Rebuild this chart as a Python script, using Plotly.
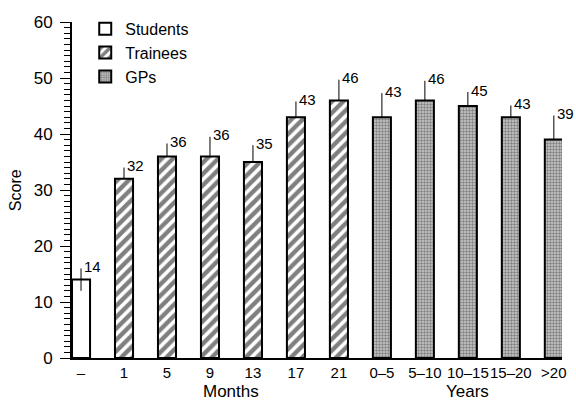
import plotly.graph_objects as go

labels = ["–", "1", "5", "9", "13", "17", "21", "0–5", "5–10", "10–15", "15–20", ">20"]
groups = ["Students"] + ["Trainees"] * 6 + ["GPs"] * 5
scores = [14, 32, 36, 36, 35, 43, 46, 43, 46, 45, 43, 39]
errors = [2.0, 2.0, 2.3, 3.5, 3.0, 2.8, 3.7, 4.3, 3.5, 2.5, 2.1, 4.3]

styles = {
    "Students": dict(shape=""),
    "Trainees": dict(shape="/", fgcolor="black", bgcolor="white", size=8, solidity=0.55),
    "GPs": dict(shape=".", fgcolor="#333333", bgcolor="#cccccc", size=3, solidity=0.5),
}

fig = go.Figure()
for g in ["Students", "Trainees", "GPs"]:
    idx = [i for i, gg in enumerate(groups) if gg == g]
    err = [errors[i] for i in idx]
    fig.add_trace(go.Bar(
        x=idx, y=[scores[i] for i in idx], name=g, width=0.42,
        marker=dict(color="white", pattern=styles[g],
                    line=dict(color="black", width=2)),
        error_y=dict(type="data", array=err,
                     arrayminus=err if g == "Students" else [0] * len(err),
                     symmetric=False, color="black", thickness=1, width=0),
    ))

for i, (s, e) in enumerate(zip(scores, errors)):
    fig.add_annotation(x=i, y=s + e, text=str(s), showarrow=False,
                       xanchor="left", yanchor="middle", xshift=1, yshift=2,
                       font=dict(size=15, color="black"))

fig.add_annotation(x=3.5, y=0, yref="paper", text="Months", showarrow=False,
                   xanchor="center", yanchor="middle", yshift=-33,
                   font=dict(size=17, color="black"))
fig.add_annotation(x=9, y=0, yref="paper", text="Years", showarrow=False,
                   xanchor="center", yanchor="middle", yshift=-33,
                   font=dict(size=17, color="black"))
fig.add_annotation(x=-0.116, xref="paper", y=0.5, yref="paper", text="Score",
                   showarrow=False, textangle=-90, xanchor="center", yanchor="middle",
                   font=dict(size=16, color="black"))

fig.update_layout(
    width=576, height=409,
    margin=dict(l=72, r=14, t=22, b=51),
    plot_bgcolor="white", paper_bgcolor="white",
    font=dict(family="Liberation Sans, Arial, sans-serif", size=14, color="black"),
    barmode="overlay",
    showlegend=True,
    legend=dict(x=0.027, y=1.03, xanchor="left", yanchor="top",
                bgcolor="rgba(0,0,0,0)", font=dict(size=16), itemwidth=30,
                tracegroupgap=0),
    xaxis=dict(range=[-0.21, 11.19], tickmode="array", tickvals=list(range(len(labels))),
               ticktext=labels, tickangle=0, showline=True, linecolor="black", linewidth=2,
               ticks="", showgrid=False, zeroline=False, tickfont=dict(size=15),
               automargin=False),
    yaxis=dict(range=[0, 60], tickmode="linear", dtick=10, showline=True,
               linecolor="black", linewidth=2, ticks="outside", ticklen=10,
               tickwidth=1, tickcolor="black", showgrid=False, zeroline=False,
               minor=dict(dtick=1, ticks="outside", ticklen=6, tickcolor="black", tickwidth=1),
               tickfont=dict(size=17), ticklabelstandoff=4, automargin=False),
)

fig.write_html("out.html", config={"displayModeBar": False},
               post_script="document.body.style.margin='0';")
